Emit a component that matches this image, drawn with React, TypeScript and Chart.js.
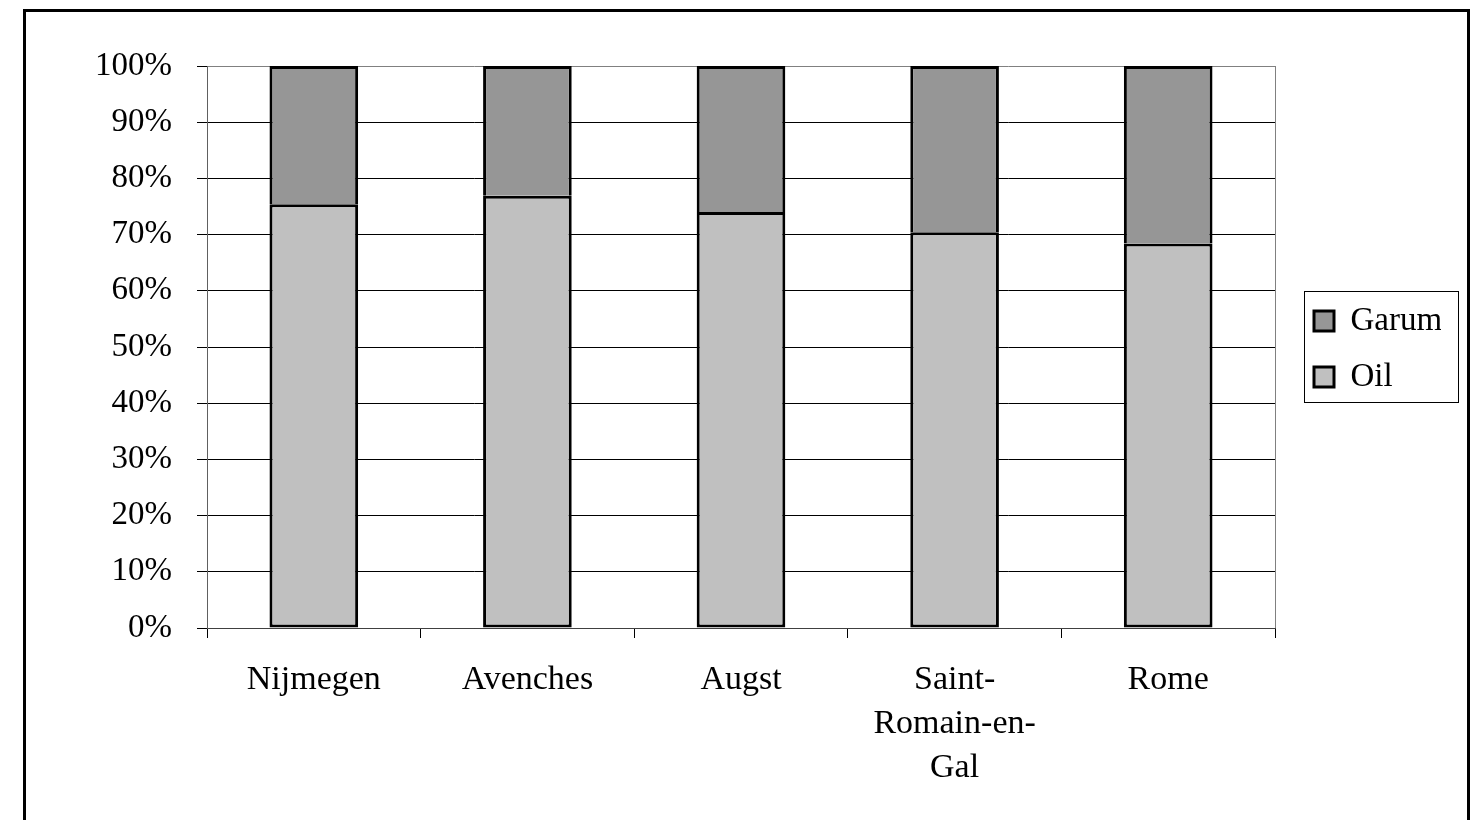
import React, { useEffect, useRef } from "react";
import { Chart, registerables } from "chart.js";

Chart.register(...registerables);

const categories: (string | string[])[] = [
  "Nijmegen",
  "Avenches",
  "Augst",
  ["Saint-", "Romain-en-", "Gal"],
  "Rome",
];
const oilValues = [75.4, 76.9, 74.0, 70.4, 68.4];
const garumValues = [24.6, 23.1, 26.0, 29.6, 31.6];
const yTicks = [0, 10, 20, 30, 40, 50, 60, 70, 80, 90, 100];

const FONT = "'Liberation Serif', 'Times New Roman', serif";

const framePlugin = {
  id: "framePlugin",
  afterLayout(chart: any) {
    const lg = chart.legend;
    if (lg) {
      const dx = 16;
      lg.left += dx;
      lg.right += dx;
      lg.top += 2;
      lg.bottom += 2;
    }
  },
  afterDatasetsDraw(chart: any) {
    const { ctx, chartArea } = chart;
    ctx.save();
    ctx.strokeStyle = "#808080";
    ctx.lineWidth = 1;
    ctx.beginPath();
    ctx.moveTo(Math.round(chartArea.right) + 0.5, chartArea.top);
    ctx.lineTo(Math.round(chartArea.right) + 0.5, chartArea.bottom);
    ctx.stroke();
    ctx.restore();
  },
  afterDraw(chart: any) {
    const lg = chart.legend;
    if (!lg || !lg.legendHitBoxes || lg.legendHitBoxes.length < 2) return;
    const hb = lg.legendHitBoxes;
    const first = hb[0];
    const last = hb[hb.length - 1];
    const { ctx } = chart;
    ctx.save();
    ctx.strokeStyle = "#000";
    ctx.lineWidth = 1;
    const x0 = 1304.5;
    const y0 = Math.round(first.top - 14) + 0.5;
    const x1 = 1458.5;
    const y1 = Math.round(last.top + last.height + 8) + 0.5;
    ctx.strokeRect(x0, y0, x1 - x0, y1 - y0);
    ctx.restore();
  },
};

export default function App() {
  const ref = useRef<HTMLCanvasElement | null>(null);

  useEffect(() => {
    if (!ref.current) return;
    const chart = new Chart(ref.current, {
      type: "bar",
      data: {
        labels: categories,
        datasets: [
          {
            label: "Oil",
            data: oilValues,
            backgroundColor: "#c0c0c0",
            borderColor: "#000",
            borderWidth: 3,
            borderSkipped: false,
            barPercentage: 0.415,
            categoryPercentage: 1,
          },
          {
            label: "Garum",
            data: garumValues,
            backgroundColor: "#969696",
            borderColor: "#000",
            borderWidth: 3,
            borderSkipped: "start",
            barPercentage: 0.415,
            categoryPercentage: 1,
          },
        ],
      },
      options: {
        animation: false,
        responsive: false,
        maintainAspectRatio: false,
        layout: { padding: { left: 0, top: 66, right: 50, bottom: 0 } },
        plugins: {
          tooltip: { enabled: false },
          legend: {
            display: true,
            position: "right",
            fullSize: false,
            reverse: true,
            maxWidth: 150,
            labels: {
              boxWidth: 20,
              boxHeight: 20,
              padding: 23,
              color: "#000",
              font: { family: FONT, size: 33 },
            },
          },
        },
        scales: {
          x: {
            stacked: true,
            afterFit: (scale: any) => {
              scale.height = 192;
            },
            grid: {
              display: true,
              drawOnChartArea: false,
              drawTicks: true,
              tickLength: 10,
              tickColor: "#000",
              offset: true,
            },
            border: { display: true, color: "#404040", width: 1 },
            ticks: {
              color: "#000",
              font: { family: FONT, size: 34, lineHeight: 1.3 },
              padding: 20,
              maxRotation: 0,
              autoSkip: false,
            },
          },
          y: {
            stacked: true,
            min: 0,
            max: 100,
            afterFit: (scale: any) => {
              scale.width = 207;
            },
            afterBuildTicks: (scale: any) => {
              scale.ticks = yTicks.map((v) => ({ value: v }));
            },
            grid: {
              color: (c: any) => (c.tick && c.tick.value === 100 ? "#808080" : "#000"),
              lineWidth: 1,
              drawTicks: true,
              tickLength: 10,
              tickColor: "#000",
            },
            border: { display: true, color: "#606060", width: 1 },
            ticks: {
              color: "#000",
              font: { family: FONT, size: 33 },
              padding: 25,
              callback: (v: any) => `${v}%`,
            },
          },
        },
      },
      plugins: [framePlugin],
    });
    return () => chart.destroy();
  }, []);

  return (
    <div style={{ position: "absolute", left: 0, top: 0, width: 1475, height: 820, overflow: "hidden", background: "#fff" }}>
      <canvas ref={ref} width={1475} height={820} style={{ position: "absolute", left: 0, top: 0, width: 1475, height: 820 }} />
      <div
        style={{
          position: "absolute",
          left: 23,
          top: 9,
          width: 1441,
          height: 900,
          border: "3px solid #000",
          pointerEvents: "none",
        }}
      />
    </div>
  );
}
